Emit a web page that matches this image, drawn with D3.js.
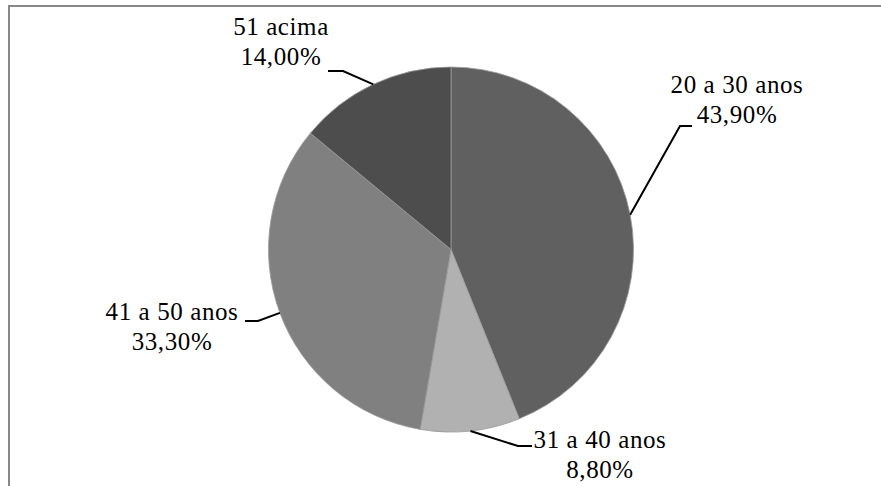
<!DOCTYPE html>
<html>
<head>
<meta charset="utf-8">
<script src="https://cdn.jsdelivr.net/npm/d3@7"></script>
<style>
  body { margin: 0; background: #fff; }
  svg { display: block; }
</style>
</head>
<body>
<div id="chart"></div>
<script>
(function () {
    var width = 881;
    var height = 486;

    // data
    var categories = ["20 a 30 anos", "31 a 40 anos", "41 a 50 anos", "51 acima"];
    var values = [43.9, 8.8, 33.3, 14.0];
    var pctLabels = ["43,90%", "8,80%", "33,30%", "14,00%"];
    var colors = ["#606060", "#b1b1b1", "#808080", "#4d4d4d"];

    // label layout: text centre, first baseline, elbow of the leader line, end of leader line
    var labelPos = [
        { x: 737, y: 93, elbow: [680, 126], end: [692, 126] },
        { x: 600, y: 448, elbow: [518, 446], end: [532, 446] },
        { x: 172, y: 320, elbow: [258, 321], end: [245, 321] },
        { x: 281, y: 35, elbow: [343, 71], end: [328, 71] }
    ];

    var cx = 451, cy = 249.5, radius = 182.5;

    var svg = d3.select("#chart").append("svg")
        .attr("width", width).attr("height", height);

    // chart frame (only the top and left edges show in this crop)
    svg.append("path")
        .attr("d", "M9," + height + "V6H" + width)
        .attr("fill", "none")
        .attr("stroke", "#888")
        .attr("stroke-width", 2);

    var pie = d3.pie().sort(null).value(function (d) { return d; });
    var arcs = pie(values);
    var arc = d3.arc().innerRadius(0).outerRadius(radius);

    var g = svg.append("g").attr("transform", "translate(" + cx + "," + cy + ")");
    g.selectAll("path.slice")
        .data(arcs)
        .enter().append("path")
        .attr("class", "slice")
        .attr("d", arc)
        .attr("fill", function (d, i) { return colors[i]; })
        .attr("stroke", "#9a9a9a")
        .attr("stroke-width", 0.8);

    // leader lines
    arcs.forEach(function (a, i) {
        var mid = (a.startAngle + a.endAngle) / 2;
        var px = cx + radius * Math.sin(mid);
        var py = cy - radius * Math.cos(mid);
        var lp = labelPos[i];
        svg.append("path")
            .attr("d", d3.line()([[px, py], lp.elbow, lp.end]))
            .attr("fill", "none")
            .attr("stroke", "#000")
            .attr("stroke-width", 2);
    });

    // labels, two lines each
    categories.forEach(function (c, i) {
        var lp = labelPos[i];
        [c, pctLabels[i]].forEach(function (s, k) {
            svg.append("text")
                .attr("x", lp.x)
                .attr("y", lp.y + k * 30)
                .style("font-family", "'Liberation Serif'")
                .style("font-size", "25px")
                .style("letter-spacing", "0.6px")
                .attr("text-anchor", "middle")
                .attr("fill", "#000")
                .text(s);
        });
    });
})();
</script>
</body>
</html>
